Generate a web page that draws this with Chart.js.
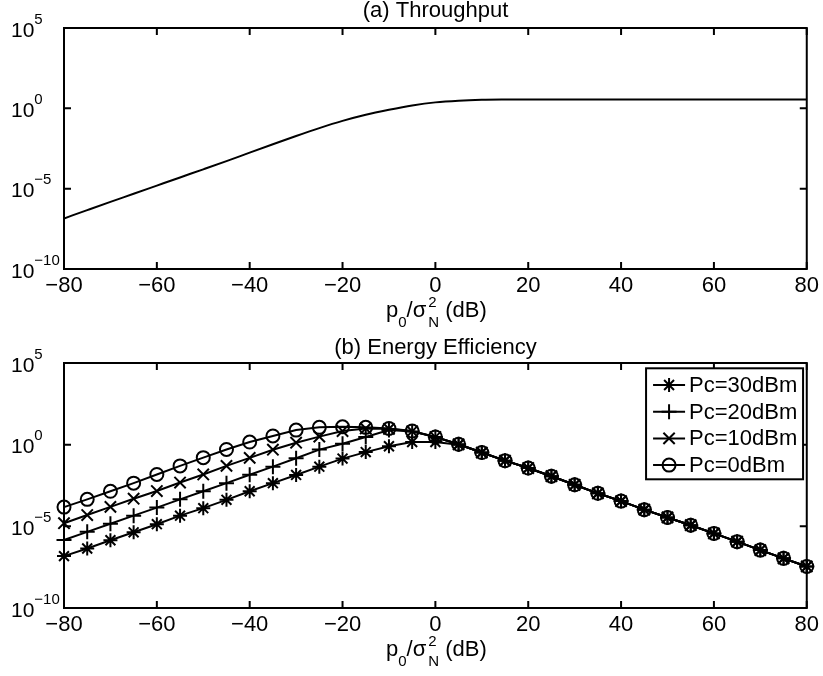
<!DOCTYPE html>
<html>
<head>
<meta charset="utf-8">
<script src="https://cdn.jsdelivr.net/npm/chart.js@4.4.1/dist/chart.umd.min.js"></script>
<style>
  html, body { margin: 0; padding: 0; background: #fff; }
  #wrap { position: relative; width: 823px; height: 676px; }
  canvas { position: absolute; left: 0; }
</style>
</head>
<body>
<div id="wrap">
  <canvas id="throughputChart" width="823" height="337" style="top:0"></canvas>
  <canvas id="efficiencyChart" width="823" height="339" style="top:337px"></canvas>
</div>
<script>
// x axis: p0 / sigma_N^2 in dB
const snrDb = [-80, -75, -70, -65, -60, -55, -50, -45, -40, -35, -30, -25, -20, -15, -10, -5,
  0, 5, 10, 15, 20, 25, 30, 35, 40, 45, 50, 55, 60, 65, 70, 75, 80];

// (a) throughput
const throughput = [1.4e-7, 4.6e-7, 1.5e-6, 4.8e-6, 1.55e-5, 5.0e-5, 1.6e-4, 5.2e-4, 1.75e-3, 5.8e-3,
  1.9e-2, 5.9e-2, 0.166, 0.40, 0.81, 1.5, 2.35, 3.0, 3.4, 3.55, 3.6, 3.6, 3.6, 3.6, 3.6, 3.6, 3.6,
  3.6, 3.6, 3.6, 3.6, 3.6, 3.6];

// (b) energy efficiency, one series per circuit power
const eePc30 = [1.5e-7, 4.4e-7, 1.4e-6, 4.3e-6, 1.35e-5, 4.5e-5, 1.3e-4, 4.2e-4, 1.4e-3, 4.4e-3,
  1.4e-2, 4.5e-2, 0.14, 0.35, 0.8, 1.45, 1.45, 1.0, 0.33, 0.105, 0.037, 0.0117, 3.5e-3, 1.05e-3,
  3.5e-4, 1.05e-4, 3.5e-5, 1.17e-5, 3.7e-6, 1.15e-6, 3.5e-7, 1.1e-7, 3.5e-8];
const eePc20 = [1.45e-6, 4.6e-6, 1.45e-5, 4.5e-5, 1.4e-4, 4.5e-4, 1.4e-3, 4.4e-3, 1.45e-2, 4.5e-2,
  0.148, 0.5, 1.15, 2.95, 7.8, 6.5, 2.9, 1.05, 0.33, 0.105, 0.037, 0.0117, 3.5e-3, 1.05e-3,
  3.5e-4, 1.05e-4, 3.5e-5, 1.17e-5, 3.7e-6, 1.15e-6, 3.5e-7, 1.1e-7, 3.5e-8];
const eePc10 = [1.55e-5, 4.9e-5, 1.55e-4, 4.9e-4, 1.45e-3, 4.8e-3, 1.5e-2, 5.0e-2, 0.155, 0.49,
  1.32, 3.1, 6.8, 9.8, 9.3, 6.6, 2.95, 1.05, 0.33, 0.105, 0.037, 0.0117, 3.5e-3, 1.05e-3,
  3.5e-4, 1.05e-4, 3.5e-5, 1.17e-5, 3.7e-6, 1.15e-6, 3.5e-7, 1.1e-7, 3.5e-8];
const eePc0 = [1.5e-4, 4.5e-4, 1.4e-3, 4.4e-3, 1.5e-2, 5.0e-2, 0.16, 0.51, 1.45, 3.4,
  7.8, 11.5, 12.3, 11.5, 9.8, 6.8, 2.95, 1.05, 0.33, 0.105, 0.037, 0.0117, 3.5e-3, 1.05e-3,
  3.5e-4, 1.05e-4, 3.5e-5, 1.17e-5, 3.7e-6, 1.15e-6, 3.5e-7, 1.1e-7, 3.5e-8];

const seriesLabels = ['Pc=30dBm', 'Pc=20dBm', 'Pc=10dBm', 'Pc=0dBm'];
const seriesMarkers = ['star', 'cross', 'crossRot', 'circle'];
const markerRadius = [7, 7.5, 8, 6.5];

// ticks
const xTicks = [-80, -60, -40, -20, 0, 20, 40, 60, 80];
const yTicks = [1e-10, 1e-5, 1, 1e5];
const yTickExponents = ['\u221210', '\u22125', '0', '5'];

const FONT = '"Liberation Sans", Arial, Helvetica, sans-serif';
const LINE_W = 2;

const toPoints = arr => snrDb.map((x, i) => ({ x: x, y: arr[i] }));

// box, inward ticks on all four sides, 10^n labels and the axis title
const matlabAxes = {
  id: 'matlabAxes',
  afterDatasetsDraw(chart) {
    const { ctx, chartArea: a, scales: { x, y } } = chart;
    const tl = 7;
    ctx.save();
    ctx.strokeStyle = '#000';
    ctx.lineWidth = LINE_W;
    ctx.beginPath();
    x.ticks.forEach(t => {
      const px = x.getPixelForValue(t.value);
      ctx.moveTo(px, a.bottom); ctx.lineTo(px, a.bottom - tl);
      ctx.moveTo(px, a.top); ctx.lineTo(px, a.top + tl);
    });
    yTicks.forEach(v => {
      const py = y.getPixelForValue(v);
      ctx.moveTo(a.left, py); ctx.lineTo(a.left + tl, py);
      ctx.moveTo(a.right, py); ctx.lineTo(a.right - tl, py);
    });
    ctx.stroke();
    ctx.strokeRect(a.left, a.top, a.right - a.left, a.bottom - a.top);

    // y tick labels as 10 with a raised exponent
    ctx.fillStyle = '#000';
    ctx.textAlign = 'left';
    ctx.textBaseline = 'alphabetic';
    yTicks.forEach((v, i) => {
      const base = y.getPixelForValue(v) + 8.5;
      const lx = a.left - 53;
      ctx.font = '21px ' + FONT;
      ctx.fillText('10', lx, base);
      const w = ctx.measureText('10').width;
      ctx.font = '15px ' + FONT;
      ctx.fillText(yTickExponents[i], lx + w, base - 13);
    });

    // x axis title: p_0 / sigma_N^2 (dB)
    const big = '22px ' + FONT, small = '15px ' + FONT;
    const parts = [
      { t: 'p', f: big, dy: 0 },
      { t: '0', f: small, dy: 10 },
      { t: '/', f: big, dy: 0 },
      { t: '\u03c3', f: big, dy: 0 },
      { t: '2', f: small, dy: -10, pad: 2, stackWith: 'N' },
      { t: ' (dB)', f: big, dy: 0 }
    ];
    let total = 0;
    parts.forEach(p => {
      ctx.font = p.f;
      let w = ctx.measureText(p.t).width;
      if (p.stackWith) w = Math.max(w, ctx.measureText(p.stackWith).width);
      p.w = w + (p.pad || 0);
      total += p.w;
    });
    const base = a.bottom + 48;
    let cx = (a.left + a.right) / 2 + 1 - total / 2;
    parts.forEach(p => {
      ctx.font = p.f;
      const ox = cx + (p.pad || 0);
      ctx.fillText(p.t, ox, base + p.dy);
      if (p.stackWith) ctx.fillText(p.stackWith, ox, base + 10);
      cx += p.w;
    });
    ctx.restore();
  }
};

// legend in a box at the top right of the plot area
const boxedLegend = {
  id: 'boxedLegend',
  afterDraw(chart) {
    const { ctx, chartArea: a } = chart;
    const w = 157, h = 111, rowH = 26.7;
    const left = a.right - 3.7 - w, top = a.top + 5.3;
    ctx.save();
    ctx.fillStyle = '#fff';
    ctx.fillRect(left, top, w, h);
    ctx.strokeStyle = '#000';
    ctx.lineWidth = LINE_W;
    ctx.strokeRect(left, top, w, h);
    chart.data.datasets.forEach((ds, i) => {
      const cy = top + 16.7 + i * rowH;
      ctx.strokeStyle = '#000';
      ctx.lineWidth = LINE_W;
      ctx.beginPath();
      ctx.moveTo(left + 7, cy);
      ctx.lineTo(left + 39, cy);
      ctx.stroke();
      ctx.fillStyle = 'rgba(0,0,0,0)';
      Chart.helpers.drawPoint(ctx, {
        pointStyle: ds.pointStyle, radius: ds.pointRadius, borderWidth: ds.pointBorderWidth, rotation: 0
      }, left + 23, cy);
      ctx.fillStyle = '#000';
      ctx.font = '22px ' + FONT;
      ctx.textAlign = 'left';
      ctx.textBaseline = 'middle';
      ctx.fillText(ds.label, left + 43, cy + 1);
    });
    ctx.restore();
  }
};

function baseOptions(titleText, titlePad) {
  return {
    responsive: false,
    animation: false,
    devicePixelRatio: 1,
    layout: { padding: { left: 64, right: 16, top: 0, bottom: 0 } },
    plugins: {
      legend: { display: false },
      tooltip: { enabled: false },
      title: {
        display: true,
        text: titleText,
        color: '#000',
        font: { family: FONT, size: 22, weight: 'normal', lineHeight: 1 },
        padding: { top: 0, bottom: titlePad }
      }
    },
    scales: {
      x: {
        type: 'linear',
        min: -80,
        max: 80,
        afterBuildTicks: s => { s.ticks = xTicks.map(v => ({ value: v })); },
        afterFit: s => { s.height = 68; },
        ticks: {
          color: '#000',
          font: { family: FONT, size: 22 },
          padding: 4,
          maxRotation: 0,
          autoSkip: false,
          callback: v => v < 0 ? '\u2212' + Math.abs(v) : String(v)
        },
        grid: { display: false, drawTicks: false },
        border: { display: false }
      },
      y: { type: 'logarithmic', min: 1e-10, max: 1e5, display: false }
    }
  };
}

new Chart(document.getElementById('throughputChart'), {
  type: 'line',
  data: {
    datasets: [{
      label: 'Throughput',
      data: toPoints(throughput),
      borderColor: '#000',
      borderWidth: LINE_W,
      pointRadius: 0,
      cubicInterpolationMode: 'monotone',
      fill: false
    }]
  },
  options: baseOptions('(a) Throughput', 6),
  plugins: [matlabAxes]
});

const eeSeries = [eePc30, eePc20, eePc10, eePc0];
new Chart(document.getElementById('efficiencyChart'), {
  type: 'line',
  data: {
    datasets: eeSeries.map((arr, i) => ({
      label: seriesLabels[i],
      data: toPoints(arr),
      borderColor: '#000',
      borderWidth: LINE_W,
      backgroundColor: 'rgba(0,0,0,0)',
      pointStyle: seriesMarkers[i],
      pointRadius: markerRadius[i],
      pointBorderColor: '#000',
      pointBackgroundColor: 'rgba(0,0,0,0)',
      pointBorderWidth: LINE_W,
      tension: 0,
      clip: false,
      fill: false
    }))
  },
  options: baseOptions('(b) Energy Efficiency', 4),
  plugins: [matlabAxes, boxedLegend]
});
</script>
</body>
</html>
